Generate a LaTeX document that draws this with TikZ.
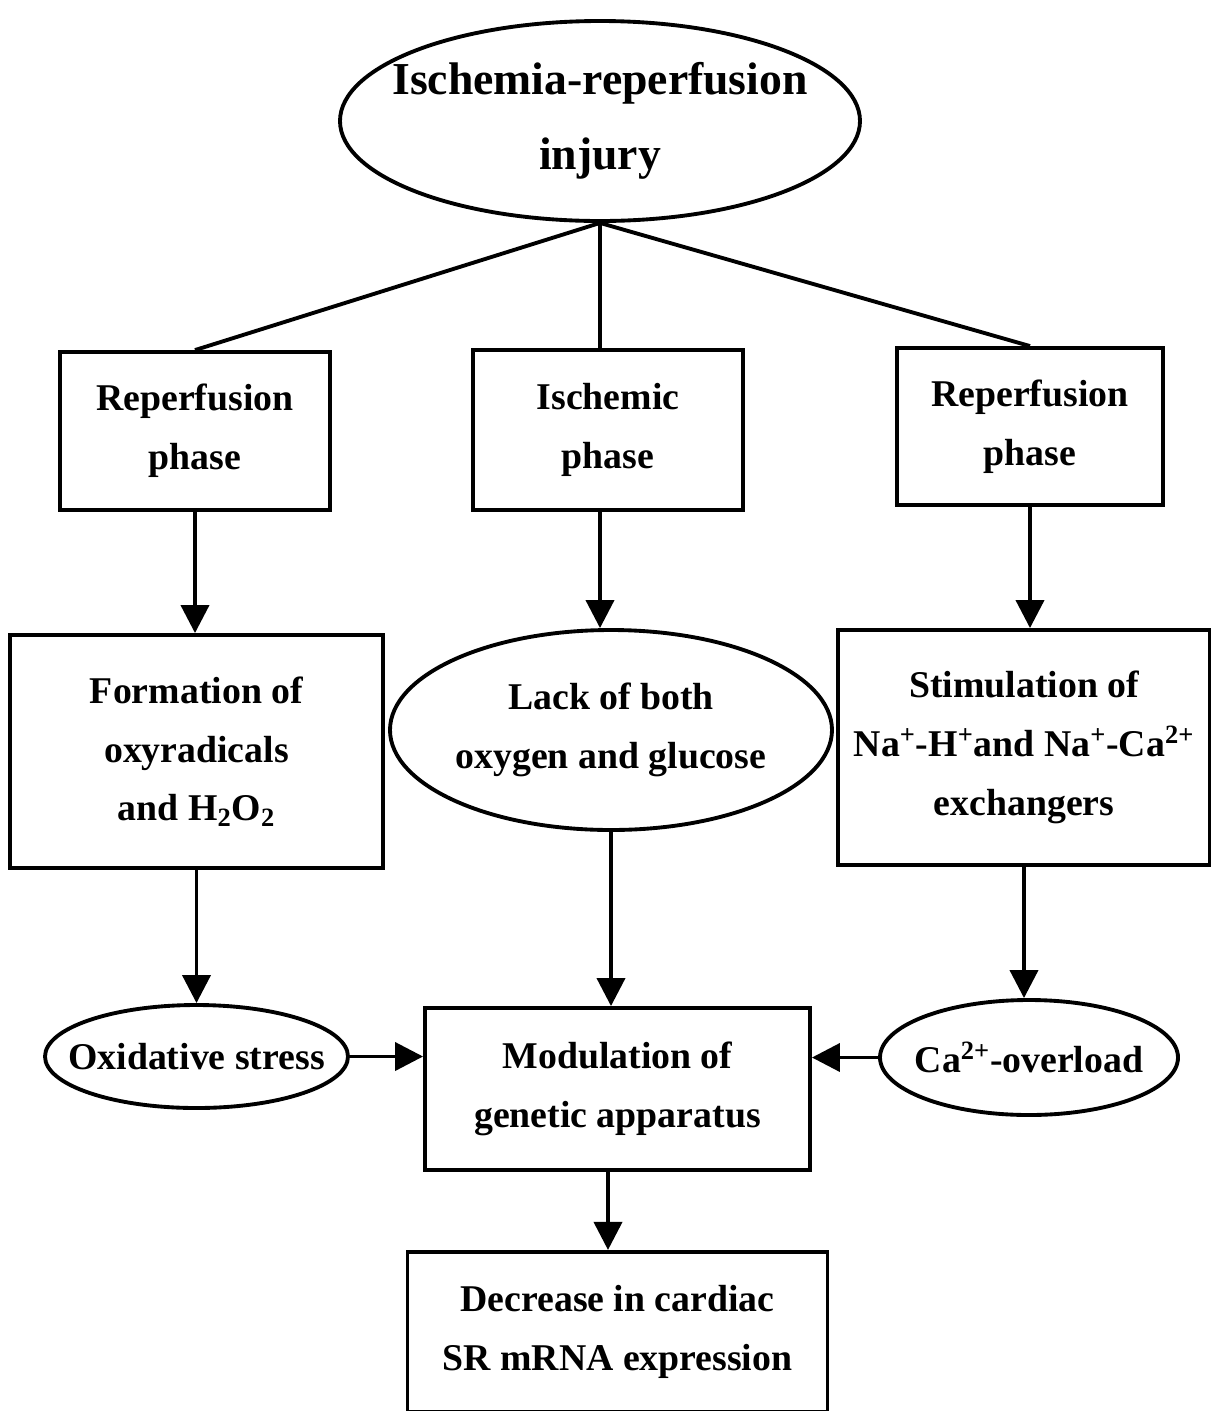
\documentclass[tikz,border=0pt]{standalone}
\usepackage{fontspec}
\setmainfont{Liberation Serif}
\usepackage{tikz}
\usetikzlibrary{arrows.meta,positioning,shapes}

\begin{document}
\begin{tikzpicture}[
    block/.style={
      rectangle,
      draw=black,
      line width=2.2pt,
      align=center,
      inner sep=0pt,
      font=\bfseries\fontsize{21.5}{33.5}\selectfont
    },
    oval/.style={
      ellipse,
      draw=black,
      line width=2.2pt,
      align=center,
      inner xsep=-0.6cm,
      inner ysep=0pt,
      font=\bfseries\fontsize{21.5}{33.5}\selectfont
    },
    arrow/.style={
      -{Triangle[length=0.56cm,width=0.56cm]},
      line width=2.2pt
    }
]

\useasboundingbox (0,0) rectangle (24.22,-28.22);

\node [oval, minimum width=10.4cm, minimum height=4cm, font=\bfseries\fontsize{26}{42.7}\selectfont] (injury) at (12.0,-2.42) {Ischemia-reperfusion\\injury};

\node [block, minimum width=5.4cm, minimum height=3.16cm] (rep1) at (3.9,-8.62) {Reperfusion\\phase};
\node [block, minimum width=5.4cm, minimum height=3.2cm] (isch) at (12.16,-8.6) {Ischemic\\phase};
\node [block, minimum width=5.32cm, minimum height=3.14cm] (rep2) at (20.6,-8.53) {Reperfusion\\phase};

\node [block, minimum width=7.46cm, minimum height=4.66cm] (form) at (3.93,-15.03) {Formation of\\oxyradicals\\and H\textsubscript{2}O\textsubscript{2}};
\node [oval, minimum width=8.84cm, minimum height=4cm] (lack) at (12.22,-14.6) {Lack of both\\oxygen and glucose};
\node [block, minimum width=7.44cm, minimum height=4.7cm] (stim) at (20.48,-14.95) {Stimulation of\\Na\textsuperscript{+}-H\textsuperscript{+}and Na\textsuperscript{+}-Ca\textsuperscript{2+}\\exchangers};

\node [oval, minimum width=6.06cm, minimum height=2.06cm] (oxid) at (3.93,-21.13) {Oxidative stress};
\node [block, minimum width=7.7cm, minimum height=3.24cm] (modu) at (12.35,-21.78) {Modulation of\\genetic apparatus};
\node [oval, minimum width=5.96cm, minimum height=2.3cm] (caov) at (20.58,-21.15) {Ca\textsuperscript{2+}-overload};

\node [block, minimum width=8.4cm, minimum height=3.2cm] (decr) [below = 1.56cm of modu] {Decrease in cardiac\\SR mRNA expression};

%%% Lines
\draw [line width=2.2pt] (injury.south) -- (rep1.north);
\draw [line width=2.2pt] (injury.south) -- (injury.south |- isch.north);
\draw [line width=2.2pt] (injury.south) -- (rep2.north);

%%% Arrows
\draw [arrow] (rep1.south) -- (rep1.south |- form.north);
\draw [arrow] ([xshift=-0.16cm]isch.south) -- ([xshift=-0.16cm]isch.south |- lack.north);
\draw [arrow] (rep2.south) -- (rep2.south |- stim.north);
\draw [arrow] (form.south) -- (form.south |- oxid.north);
\draw [arrow] (lack.south) -- (lack.south |- modu.north);
\draw [arrow] (stim.south) -- (stim.south |- caov.north);
\draw [arrow] (oxid.east) -- (oxid.east -| modu.west);
\draw [arrow] (caov.west) -- (caov.west -| modu.east);
\draw [arrow] ([xshift=-0.19cm]modu.south) -- ([xshift=-0.19cm]modu.south |- decr.north);

\end{tikzpicture}
\end{document}
